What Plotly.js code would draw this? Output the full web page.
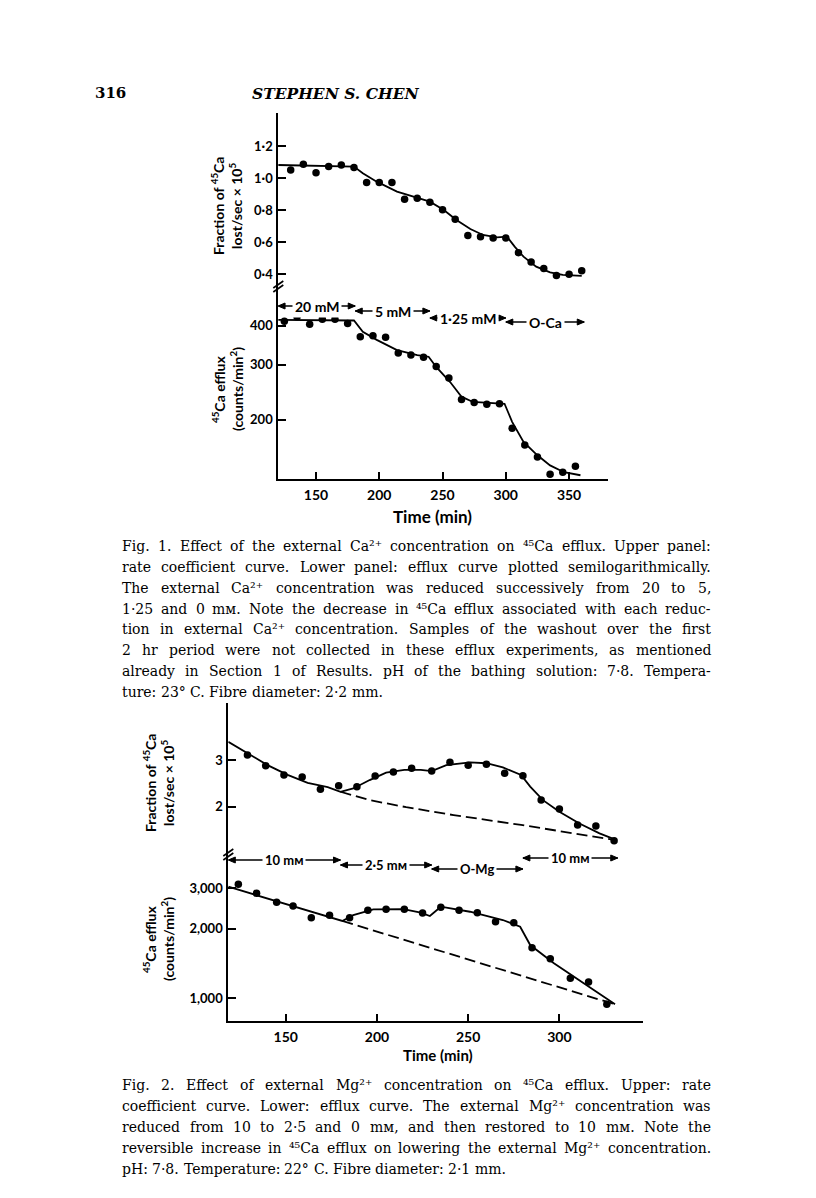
<!DOCTYPE html>
<html>
<head>
<meta charset="utf-8">
<script src="https://cdn.plot.ly/plotly-3.0.1.min.js"></script>
<style>
  html, body { margin: 0; padding: 0; background: #fff; }
  #chart { width: 816px; height: 1198px; }
</style>
</head>
<body>
<div id="chart"></div>
<script>
// ---------------- DATA ----------------
// Fig. 1 – upper panel: rate coefficient (fraction of 45Ca lost/sec x 10^5)
const f1RateTime  = [130,140,150,160,170,180,190,200,210,220,230,240,250,260,270,280,290,300,310,320,330,340,350,360];
const f1RateValue = [1.05,1.085,1.033,1.071,1.081,1.065,0.971,0.971,0.971,0.867,0.873,0.848,0.802,0.742,0.640,0.633,0.625,0.625,0.533,0.475,0.435,0.390,0.398,0.421];
const f1RateCurveTime  = [120,180,187,198,214,230,240,251,261,272,282,293,301,307,314,324,335,345,360];
const f1RateCurveValue = [1.081,1.071,1.029,0.977,0.915,0.879,0.852,0.800,0.738,0.681,0.644,0.629,0.633,0.571,0.508,0.446,0.410,0.394,0.388];
const f1RateTicks    = [0.4,0.6,0.8,1.0,1.2];
const f1RateTickText = ['0·4','0·6','0·8','1·0','1·2'];

// Fig. 1 – lower panel: 45Ca efflux (counts/min^2), semilog
const f1EffluxTime  = [125,135,145,155,165,175,185,195,205,215,225,235,245,255,265,275,285,295,305,315,325,335,345,355];
const f1EffluxValue = [413,427,404,419,419,406,368,371,367,327,322,317,296,272,232,227,224,225,188,166,152,134,136,142];
const f1EffluxCurveTime  = [120,180,187,198,214,230,239,245,256,265,274,299,305,314,325,335,346,359];
const f1EffluxCurveValue = [417,415,382,360,334,322,318,295,264,237,228,225,197,170,154,143,136,133];
const f1EffluxTicks    = [200,300,400];
const f1EffluxTickText = ['200','300','400'];
const f1TimeTicks      = [150,200,250,300,350];
const f1TimeTickText   = ['150','200','250','300','350'];

// Fig. 1 – external Ca2+ periods
const f1CondLabel = ['20 mM','5 mM','1·25 mM','O-Ca'];
const f1CondStart = [120,181,240,300];
const f1CondEnd   = [181,240,300,362];

// Fig. 2 – upper panel: rate coefficient
const f2RateTime  = [129,139,149,159,169,179,189,199,209,219,230,240,250,260,270,280,290,300,310,320,330];
const f2RateValue = [3.107,2.878,2.679,2.636,2.373,2.45,2.428,2.657,2.743,2.822,2.764,2.951,2.887,2.908,2.715,2.664,2.143,1.951,1.608,1.585,1.272];
const f2RateCurveTime  = [118.5,129,140,151,162,173,180,187,196,205,215,224,230,238,251,260,269,279,284,291,300,311,322,331];
const f2RateCurveValue = [3.39,3.14,2.89,2.68,2.51,2.42,2.32,2.39,2.57,2.73,2.79,2.79,2.76,2.89,2.95,2.93,2.84,2.68,2.43,2.14,1.89,1.64,1.43,1.29];
const f2RateBaseTime  = [180,196,216,242,279,315,330];
const f2RateBaseValue = [2.32,2.14,1.99,1.82,1.61,1.39,1.29];
const f2RateTicks    = [2,3];
const f2RateTickText = ['2','3'];

// Fig. 2 – lower panel: 45Ca efflux, semilog
const f2EffluxTime  = [124,134,145,154,164,174,185,195,205,215,225,235,245,255,265,275,285,295,306,316,326];
const f2EffluxValue = [3123,2854,2609,2514,2237,2291,2237,2408,2432,2432,2344,2481,2408,2351,2150,2128,1658,1485,1222,1177,942];
const f2EffluxCurveTime  = [118.5,181,187,198,214.5,224,229,235,251,269,278.5,284,297,315,330.5];
const f2EffluxCurveValue = [3048,2165,2298,2433,2439,2351,2275,2497,2374,2186,2045,1703,1419,1143,942];
const f2EffluxBaseTime  = [181,330.5];
const f2EffluxBaseValue = [2165,942];
const f2EffluxTicks    = [1000,2000,3000];
const f2EffluxTickText = ['1,000','2,000','3,000'];
const f2TimeTicks      = [150,200,250,300];
const f2TimeTickText   = ['150','200','250','300'];

// Fig. 2 – external Mg2+ periods
const f2CondLabel = ['10 mᴍ','2·5 mᴍ','O-Mg','10 mᴍ'];
const f2CondStart = [118.5,180,230,280];
const f2CondEnd   = [180,230,280,332];

// Text
const headerPage  = '316';
const headerTitle = 'STEPHEN S. CHEN';
const fig1Caption = [
  'Fig. 1. Effect of the external Ca²⁺ concentration on ⁴⁵Ca efflux. Upper panel:',
  'rate coefficient curve. Lower panel: efflux curve plotted semilogarithmically.',
  'The external Ca²⁺ concentration was reduced successively from 20 to 5,',
  '1·25 and 0 mᴍ. Note the decrease in ⁴⁵Ca efflux associated with each reduc-',
  'tion in external Ca²⁺ concentration. Samples of the washout over the first',
  '2 hr period were not collected in these efflux experiments, as mentioned',
  'already in Section 1 of Results. pH of the bathing solution: 7·8. Tempera-',
  'ture: 23° C. Fibre diameter: 2·2 mm.'
];
const fig2Caption = [
  'Fig. 2. Effect of external Mg²⁺ concentration on ⁴⁵Ca efflux. Upper: rate',
  'coefficient curve. Lower: efflux curve. The external Mg²⁺ concentration was',
  'reduced from 10 to 2·5 and 0 mᴍ, and then restored to 10 mᴍ. Note the',
  'reversible increase in ⁴⁵Ca efflux on lowering the external Mg²⁺ concentration.',
  'pH: 7·8. Temperature: 22° C. Fibre diameter: 2·1 mm.'
];

// ---------------- LAYOUT HELPERS ----------------
const W = 816, H = 1198;
const px = x => x / W;
const py = y => 1 - y / H;
const SANS = 'Lato, "Open Sans", "DejaVu Sans", sans-serif';
const SERIF = '"DejaVu Serif", serif';
const BLACK = '#000';

function yAxis(top, bottom, range, tickvals, ticktext, type) {
  return {
    domain: [py(bottom), py(top)], range, type: type || 'linear',
    tickmode: 'array', tickvals, ticktext,
    ticks: 'inside', ticklen: 8, tickwidth: 2, tickcolor: BLACK,
    showline: true, linewidth: 2, linecolor: BLACK,
    showgrid: false, zeroline: false, fixedrange: true,
    ticklabelstandoff: 1,
    tickfont: {family: SANS, size: 13, color: BLACK, weight: 'bold'}
  };
}
function xAxis(left, right, range, visible, tickvals, ticktext, anchor) {
  const ax = {
    domain: [px(left), px(right)], range, anchor,
    showgrid: false, zeroline: false, fixedrange: true
  };
  if (!visible) { ax.visible = false; return ax; }
  Object.assign(ax, {
    tickmode: 'array', tickvals, ticktext,
    ticks: 'inside', ticklen: 7, tickwidth: 2, tickcolor: BLACK,
    showline: true, linewidth: 2, linecolor: BLACK,
    ticklabelstandoff: 2,
    tickfont: {family: SANS, size: 14, color: BLACK, weight: 'bold'}
  });
  return ax;
}

const dots = (x, y, xa, ya) => ({
  x, y, xaxis: xa, yaxis: ya, type: 'scatter', mode: 'markers',
  marker: {color: BLACK, size: 7.5}, cliponaxis: false, hoverinfo: 'skip'
});
const curve = (x, y, xa, ya, dash) => ({
  x, y, xaxis: xa, yaxis: ya, type: 'scatter', mode: 'lines',
  line: {color: BLACK, width: 1.8, dash: dash || 'solid'}, hoverinfo: 'skip'
});

const data = [
  curve(f1RateCurveTime, f1RateCurveValue, 'x', 'y'),
  dots(f1RateTime, f1RateValue, 'x', 'y'),
  curve(f1EffluxCurveTime, f1EffluxCurveValue, 'x2', 'y2'),
  dots(f1EffluxTime, f1EffluxValue, 'x2', 'y2'),
  curve(f2RateBaseTime, f2RateBaseValue, 'x3', 'y3', '11px,5px'),
  curve(f2RateCurveTime, f2RateCurveValue, 'x3', 'y3'),
  dots(f2RateTime, f2RateValue, 'x3', 'y3'),
  curve(f2EffluxBaseTime, f2EffluxBaseValue, 'x4', 'y4', '11px,5px'),
  curve(f2EffluxCurveTime, f2EffluxCurveValue, 'x4', 'y4'),
  dots(f2EffluxTime, f2EffluxValue, 'x4', 'y4')
];

// ---------------- ANNOTATIONS & SHAPES ----------------
const ann = [];
const shapes = [];
function text(x, y, t, opts) {
  ann.push(Object.assign({
    xref: 'paper', yref: 'paper', x: px(x), y: py(y), text: t, showarrow: false,
    xanchor: 'center', yanchor: 'middle',
    font: {family: SANS, size: 14, color: BLACK, weight: 'bold'}
  }, opts || {}));
}
// header
text(110, 93, headerPage, {font: {family: SERIF, size: 15, color: BLACK, weight: 'bold'}});
text(335, 93, headerTitle, {font: {family: SERIF, size: 15.5, color: BLACK, style: 'italic', weight: 'bold'}});

// axis titles
text(218, 206, 'Fraction of <sup>45</sup>Ca', {textangle: -90});
text(236, 206, 'lost/sec × 10<sup>5</sup>', {textangle: -90});
text(218, 389, '<sup>45</sup>Ca efflux', {textangle: -90});
text(236, 389, '(counts/min<sup>2</sup>)', {textangle: -90});
text(432, 516, 'Time (min)', {font: {family: SANS, size: 17, color: BLACK, weight: 'bold'}});

text(149, 783, 'Fraction of <sup>45</sup>Ca', {textangle: -90});
text(167, 783, 'lost/sec × 10<sup>5</sup>', {textangle: -90});
text(149, 939, '<sup>45</sup>Ca efflux', {textangle: -90});
text(167, 939, '(counts/min<sup>2</sup>)', {textangle: -90});
text(438, 1055, 'Time (min)', {font: {family: SANS, size: 15, color: BLACK, weight: 'bold'}});

// condition bars: double-headed arrow across the period, label on top
function conditions(labels, starts, ends, rows, xa, size) {
  labels.forEach((lab, i) => {
    const yy = py(rows[i]);
    shapes.push({type: 'line', xref: xa, yref: 'paper', x0: starts[i], x1: ends[i], y0: yy, y1: yy,
      line: {color: BLACK, width: 1.4}});
    shapes.push({type: 'path', xref: xa, xsizemode: 'pixel', xanchor: ends[i],
      yref: 'paper', ysizemode: 'pixel', yanchor: yy,
      path: 'M0,0 L-7,3 L-7,-3 Z', fillcolor: BLACK, line: {color: BLACK, width: 1}});
    shapes.push({type: 'path', xref: xa, xsizemode: 'pixel', xanchor: starts[i],
      yref: 'paper', ysizemode: 'pixel', yanchor: yy,
      path: 'M0,0 L7,3 L7,-3 Z', fillcolor: BLACK, line: {color: BLACK, width: 1}});
    ann.push({
      xref: xa, yref: 'paper', x: (starts[i] + ends[i]) / 2, y: yy, text: lab,
      showarrow: false, bgcolor: '#fff', borderpad: 2,
      xanchor: 'center', yanchor: 'middle',
      font: {family: SANS, size: size, color: BLACK, weight: 'bold'}
    });
  });
}
conditions(f1CondLabel, f1CondStart, f1CondEnd, [306, 311, 318, 322], 'x2', 14);
conditions(f2CondLabel, f2CondStart, f2CondEnd, [860, 865, 869, 858], 'x4', 13);

// justified captions (per-line fit)
function caption(lines, x0, x1, yTop, lh, baseSize) {
  const ctx = document.createElement('canvas').getContext('2d');
  const avail = x1 - x0;
  lines.forEach((line, i) => {
    let size = baseSize;
    ctx.font = size + 'px "DejaVu Serif"';
    const words = line.split(' ');
    let widths = words.map(w => ctx.measureText(w).width);
    let total = widths.reduce((a, b) => a + b, 0);
    let spaceW = ctx.measureText(' ').width;
    const minNeeded = total + (words.length - 1) * spaceW * 0.6;
    if (minNeeded > avail) {
      size = size * avail / minNeeded;
      ctx.font = size + 'px "DejaVu Serif"';
      widths = words.map(w => ctx.measureText(w).width);
      total = widths.reduce((a, b) => a + b, 0);
      spaceW = ctx.measureText(' ').width;
    }
    const last = i === lines.length - 1;
    const gap = (last || words.length < 2) ? spaceW : (avail - total) / (words.length - 1);
    let x = x0;
    words.forEach((w, j) => {
      ann.push({
        xref: 'paper', yref: 'paper', x: px(x), y: py(yTop + i * lh),
        xanchor: 'left', yanchor: 'middle', text: w, showarrow: false, borderpad: 0,
        font: {family: SERIF, size: size, color: BLACK}
      });
      x += widths[j] + gap;
    });
  });
}
caption(fig1Caption, 121, 710, 546, 20.86, 14);
caption(fig2Caption, 121, 710, 1085, 21, 14);

// axis break marks
function brk(x, y) {
  [-4, 0].forEach(d => {
    shapes.push({type: 'line', xref: 'paper', yref: 'paper',
      x0: px(x - 5), y0: py(y + 4 + d), x1: px(x + 5), y1: py(y - 3 + d),
      line: {color: BLACK, width: 1.6}});
  });
}
brk(278.3, 288);
brk(228.3, 856);

const layout = {
  width: W, height: H,
  margin: {l: 0, r: 0, t: 0, b: 0},
  paper_bgcolor: '#fff', plot_bgcolor: 'rgba(0,0,0,0)',
  showlegend: false,
  font: {family: SANS, color: BLACK},
  xaxis:  xAxis(278.3, 608.3, [120.2, 381], false, null, null, 'y'),
  yaxis:  Object.assign(yAxis(113, 286, [0.325, 1.406], f1RateTicks, f1RateTickText), {anchor: 'x'}),
  xaxis2: xAxis(278.3, 608.3, [120.2, 381], true, f1TimeTicks, f1TimeTickText, 'y2'),
  yaxis2: Object.assign(yAxis(286, 479.3, [Math.log10(129.1), Math.log10(534.9)], f1EffluxTicks, f1EffluxTickText, 'log'), {anchor: 'x2'}),
  xaxis3: xAxis(228.3, 643.3, [118.5, 346], false, null, null, 'y3'),
  yaxis3: Object.assign(yAxis(703, 852, [1.03, 4.22], f2RateTicks, f2RateTickText), {anchor: 'x3'}),
  xaxis4: xAxis(228.3, 643.3, [118.5, 346], true, f2TimeTicks, f2TimeTickText, 'y4'),
  yaxis4: Object.assign(yAxis(852, 1020.7, [Math.log10(800), Math.log10(4311)], f2EffluxTicks, f2EffluxTickText, 'log'), {anchor: 'x4'}),
  annotations: ann,
  shapes: shapes
};

Plotly.newPlot('chart', data, layout, {staticPlot: true, displayModeBar: false});
</script>
</body>
</html>
